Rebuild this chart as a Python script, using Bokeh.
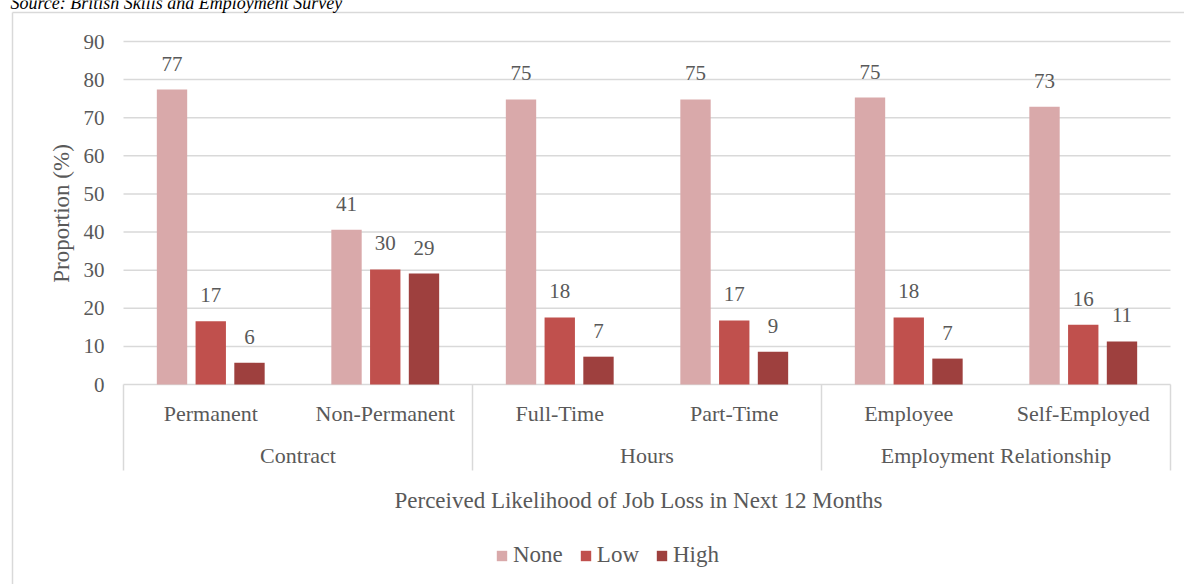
import math

from bokeh.plotting import figure
from bokeh.models import Range1d, ColumnDataSource, Legend, LegendItem
from bokeh.core.properties import value
from bokeh.embed import file_html
from bokeh.resources import INLINE

# ---- data -------------------------------------------------------------
groups = ["Contract", "Hours", "Employment Relationship"]
categories = ["Permanent", "Non-Permanent", "Full-Time", "Part-Time", "Employee", "Self-Employed"]
category_group = [0, 0, 1, 1, 2, 2]
series = ["None", "Low", "High"]
none_pct = [77.4, 40.6, 74.8, 74.8, 75.3, 72.9]
low_pct = [16.6, 30.2, 17.6, 16.8, 17.6, 15.7]
high_pct = [5.7, 29.1, 7.3, 8.6, 6.8, 11.3]
y_ticks = [0, 10, 20, 30, 40, 50, 60, 70, 80, 90]
y_title = "Proportion (%)"
x_title = "Perceived Likelihood of Job Loss in Next 12 Months"
source_note = "Source: British Skills and Employment Survey"

# ---- style ------------------------------------------------------------
FONT = "Liberation Serif"
colors = ["#D9A9AA", "#C0504D", "#9E403E"]
GRID = "#D9D9D9"
TEXT = "#595959"

# ---- layout (page pixels) --------------------------------------------
W, H = 1184, 584
LEFT, RIGHT = 123, 1170      # plot area horizontal extent
BASE, TOP90 = 384, 41        # pixel rows of 0 and 90
cat_px = (RIGHT - LEFT) / len(categories)
unit_px = (BASE - TOP90) / 90.0


def dx(px):
    return (px - LEFT) / cat_px


def dy(py):
    return (BASE - py) / unit_px


p = figure(
    width=W, height=H,
    x_range=Range1d(-LEFT / cat_px, (W - LEFT) / cat_px),
    y_range=Range1d(-(H - BASE) / unit_px, BASE / unit_px),
    x_axis_type=None, y_axis_type=None,
    toolbar_location=None, output_backend="svg",
    min_border=0, outline_line_color=None,
    background_fill_color="white", border_fill_color="white",
)
p.grid.visible = False

# outer chart border
p.segment(x0=[dx(12), dx(12)], y0=[dy(12), dy(12)], x1=[dx(W + 5), dx(12)], y1=[dy(12), dy(H + 5)],
          line_color=GRID, line_width=1.5)

# horizontal gridlines
n = len(categories)
p.segment(x0=[0] * (len(y_ticks) - 1), x1=[n] * (len(y_ticks) - 1),
          y0=y_ticks[1:], y1=y_ticks[1:], line_color=GRID, line_width=1.5)

# category axis box: baseline plus group dividers
p.segment(x0=[0], x1=[n], y0=[0], y1=[0], line_color=GRID, line_width=1.5)
div_x = [0] + [i + 1 for i in range(n - 1) if category_group[i] != category_group[i + 1]] + [n]
p.segment(x0=div_x, x1=div_x, y0=[0] * len(div_x), y1=[dy(470)] * len(div_x),
          line_color=GRID, line_width=1.5)

# y tick labels
p.text(x=[dx(104)] * len(y_ticks), y=y_ticks, text=[str(t) for t in y_ticks],
       text_align="right", text_baseline="middle", text_font=value(FONT),
       text_font_size="21px", text_color=TEXT)

# y title
p.text(x=[dx(61)], y=[dy(213)], text=[y_title], angle=math.pi / 2,
       text_align="center", text_baseline="middle", text_font=value(FONT),
       text_font_size="23px", text_color=TEXT)

# bars and value labels
pitch = 0.222
bar_w = 0.174
offsets = [-pitch, 0.0, pitch]
renderers = []
for s, vals, col, off in zip(series, [none_pct, low_pct, high_pct], colors, offsets):
    src = ColumnDataSource(dict(
        x=[i + 0.5 + off for i in range(n)],
        top=vals,
        label=[f"{v:.0f}" for v in vals],
    ))
    r = p.vbar(x="x", top="top", width=bar_w, source=src, fill_color=col, line_color=None)
    renderers.append(r)
    p.text(x="x", y="top", text="label", source=src, text_align="center",
           text_baseline="middle", y_offset=-26, text_font=value(FONT),
           text_font_size="21px", text_color=TEXT)

# category labels
p.text(x=[i + 0.5 for i in range(n)], y=[dy(413)] * n, text=categories,
       text_align="center", text_baseline="middle", text_font=value(FONT),
       text_font_size="22px", text_color=TEXT)
group_x = []
for g in range(len(groups)):
    idx = [i for i in range(n) if category_group[i] == g]
    group_x.append((min(idx) + max(idx) + 1) / 2)
p.text(x=group_x, y=[dy(455)] * len(groups), text=groups,
       text_align="center", text_baseline="middle", text_font=value(FONT),
       text_font_size="22px", text_color=TEXT)

# x title
p.text(x=[dx(638)], y=[dy(500)], text=[x_title], text_align="center",
       text_baseline="middle", text_font=value(FONT), text_font_size="23px",
       text_color=TEXT)

# source note (runs off the top edge)
p.text(x=[dx(10)], y=[dy(2)], text=[source_note], text_align="left",
       text_baseline="alphabetic", text_font=value(FONT), text_font_style="italic",
       text_font_size="18px", text_color="#000000")

legend = Legend(
    items=[LegendItem(label=s, renderers=[r]) for s, r in zip(series, renderers)],
    orientation="horizontal", location=(495, 16),
    glyph_width=13, glyph_height=13, label_standoff=5, spacing=16,
    padding=0, margin=0, border_line_color=None, background_fill_alpha=0,
    label_text_font=FONT, label_text_font_size="23px", label_text_color=TEXT,
)
p.add_layout(legend)

open("out.html", "w").write(file_html(p, INLINE))
